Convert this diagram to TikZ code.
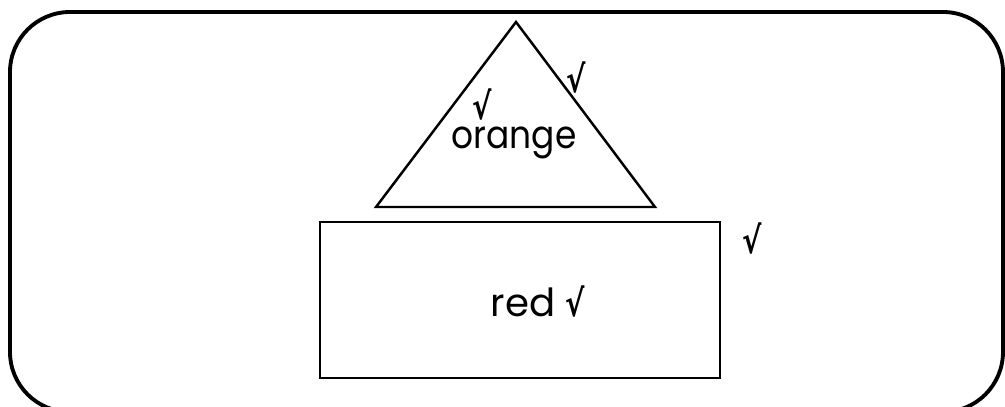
\documentclass[tikz,border=0pt]{standalone}
\usepackage{fontspec}
\setmainfont{Poppins}
\newfontfamily\tickfont{DejaVu Sans}
\usetikzlibrary{positioning}
\newcommand{\tick}{\scalebox{0.75}[0.95]{\tickfont\bfseries √}}

\begin{document}
\begin{tikzpicture}[
    x=0.01cm, y=-0.01cm,
    frame/.style={draw, line width=1.1pt, rounded corners=0.6cm},
    outline/.style={draw, line width=0.7pt},
    lbl/.style={font=\fontsize{11}{13}\selectfont, inner sep=0pt}
]
\useasboundingbox (0,0) rectangle (1005,407);

% outer frame
\draw[frame] (10,12) rectangle (1003,412);

% shapes
\coordinate (top) at (516,22);
\coordinate (bl) at (376,207);
\coordinate (br) at (655,207);
\draw[outline] (top) -- (bl) -- (br) -- cycle;
\node[outline, minimum width=4cm, minimum height=1.56cm, inner sep=0pt] (box) at (520,300) {};

% labels
\node[lbl, anchor=base] (otxt) at (514,149) {\scalebox{0.89}[1]{orange}};
\node[lbl] (ochk) at (482,105) {\tick};
\node[lbl] (tchk) at (576,78) {\tick};
\node[lbl] (bchk) at (752,238) {\tick};
\node[lbl, anchor=base] (rtxt) at (538,317) {red \tick};

\end{tikzpicture}
\end{document}
